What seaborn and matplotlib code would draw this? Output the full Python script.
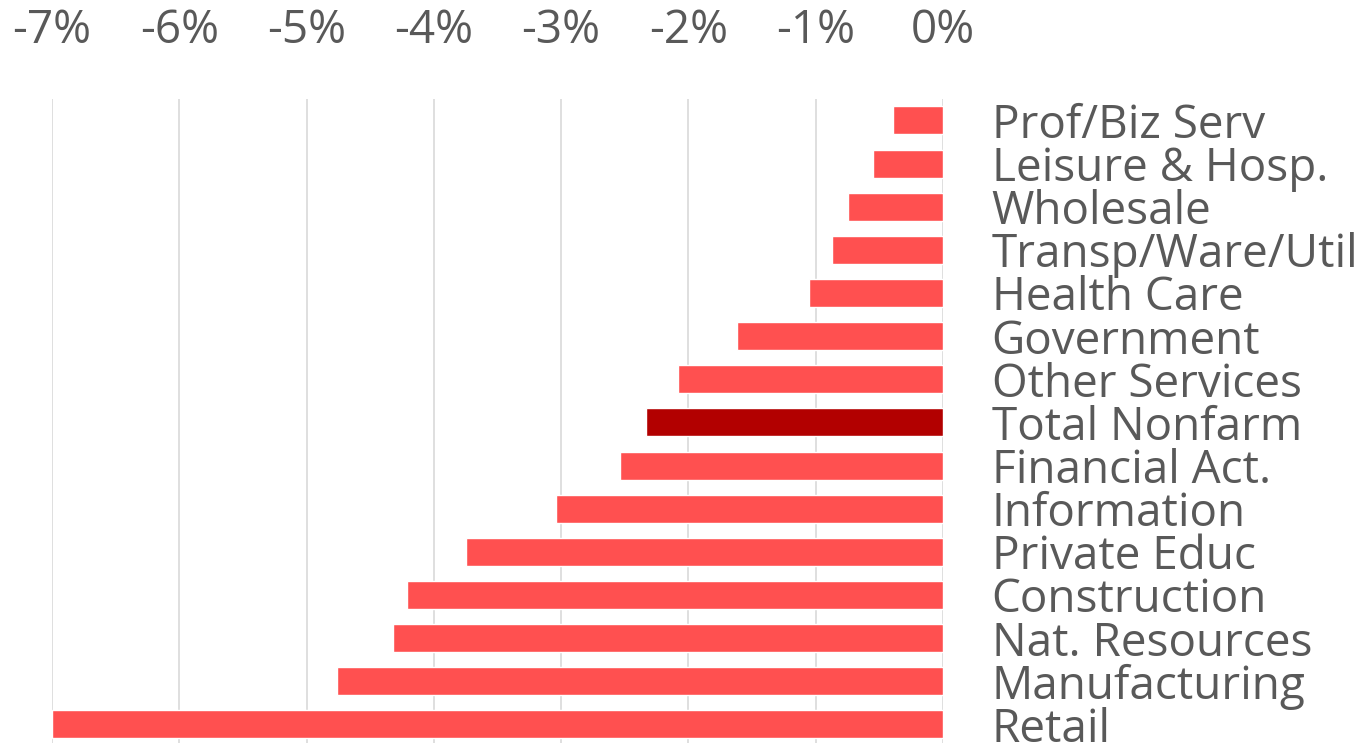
import matplotlib.pyplot as plt
import seaborn as sns
import pandas as pd
from matplotlib.ticker import FuncFormatter

# Job change by sector (%)
sectors = ["Prof/Biz Serv", "Leisure & Hosp.", "Wholesale", "Transp/Ware/Util",
           "Health Care", "Government", "Other Services", "Total Nonfarm",
           "Financial Act.", "Information", "Private Educ", "Construction",
           "Nat. Resources", "Manufacturing", "Retail"]
change = [-0.39, -0.55, -0.75, -0.87, -1.05, -1.62, -2.08, -2.33,
          -2.54, -3.04, -3.75, -4.21, -4.32, -4.76, -7.0]
is_total = [s == "Total Nonfarm" for s in sectors]

df = pd.DataFrame({"sector": sectors, "change": change, "total": is_total})

sns.set_style("white")
plt.rcParams["font.family"] = ["Open Sans", "DejaVu Sans"]

fig = plt.figure(figsize=(13.68, 7.43), dpi=100)
ax = fig.add_axes([0.038, -0.004, 0.6513, 0.871])

sns.barplot(data=df, x="change", y="sector", hue="total",
            palette={False: "#FF5050", True: "#B20000"},
            width=0.65, dodge=False, legend=False, ax=ax, saturation=1)

ax.set_xlim(-7, 0)
ax.set_xticks(range(-7, 1))
ax.xaxis.set_major_formatter(FuncFormatter(lambda v, p: f"{int(v)}%"))
ax.xaxis.tick_top()
ax.yaxis.tick_right()
ax.tick_params(axis="x", length=0, pad=32, labelsize=33, labelcolor="#595959")
ax.tick_params(axis="y", length=0, pad=35, labelsize=33, labelcolor="#595959")
ax.grid(axis="x", color="#D9D9D9", linewidth=1.2)
ax.set_axisbelow(True)
for sp in ax.spines.values():
    sp.set_visible(False)
ax.set_xlabel("")
ax.set_ylabel("")

fig.savefig("out.png", dpi=100)
